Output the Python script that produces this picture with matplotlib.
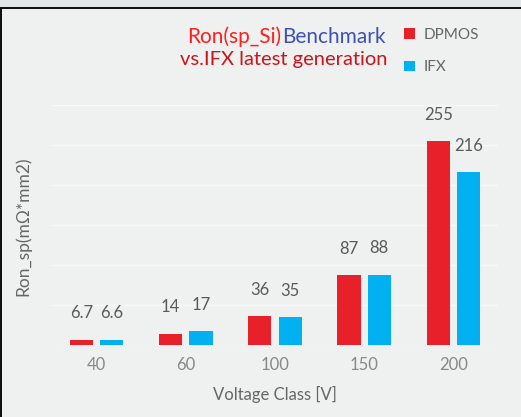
import matplotlib
matplotlib.use("Agg")
import matplotlib.pyplot as plt
from matplotlib.patches import Rectangle
import numpy as np

# data
voltage_classes = ["40", "60", "100", "150", "200"]
dpmos = [6.7, 14, 36, 87, 255]
ifx = [6.6, 17, 35, 88, 216]
dpmos_labels = ["6.7", "14", "36", "87", "255"]
ifx_labels = ["6.6", "17", "35", "88", "216"]

RED = "#e8202a"
BLUE = "#00b0f0"
BG = "#eff0f0"

plt.rcParams['font.family'] = ['Lato', 'DejaVu Sans']

W, H = 521, 417
fig = plt.figure(figsize=(W / 100, H / 100), dpi=100, facecolor=BG)

# screenshot frame: light strip on top, dark border lines
fig.patches.append(Rectangle((0, 1 - 7 / H), 1, 7 / H, transform=fig.transFigure,
                             facecolor="#e3e6e8", edgecolor="none", zorder=0))
fig.patches.append(Rectangle((0, 1 - 9 / H), 1, 2 / H, transform=fig.transFigure,
                             facecolor="#111111", edgecolor="none", zorder=0))
fig.patches.append(Rectangle((0, 0), 2 / W, 1 - 7 / H, transform=fig.transFigure,
                             facecolor="#111111", edgecolor="none", zorder=0))

ax = fig.add_axes([52 / W, 72 / H, (498 - 52) / W, (345 - 105) / H])
ax.set_facecolor(BG)

x = np.arange(len(voltage_classes))
w = 0.26
off = 0.17
b1 = ax.bar(x - off, dpmos, w, color=RED, label="DPMOS", zorder=3)
b2 = ax.bar(x + off, ifx, w, color=BLUE, label="IFX", zorder=3)

for bars, labels in ((b1, dpmos_labels), (b2, ifx_labels)):
    for rect, lab in zip(bars, labels):
        ax.annotate(lab, (rect.get_x() + rect.get_width() / 2, rect.get_height()),
                    xytext=(0, 19), textcoords="offset points", ha="center", va="center",
                    fontsize=12, color="#5a5a5a")

ax.set_xlim(-0.5, len(voltage_classes) - 0.5)
ax.set_ylim(0, 300)
ax.set_yticks(np.arange(0, 301, 50))
ax.set_yticklabels([])
ax.yaxis.grid(True, color="#f8f8f8", linewidth=1, zorder=0)
ax.set_axisbelow(True)
ax.set_xticks(x)
ax.set_xticklabels(voltage_classes, fontsize=12, color="#888888")
ax.tick_params(axis="both", length=0)
ax.tick_params(axis="x", pad=9)
for s in ax.spines.values():
    s.set_visible(False)

ax.set_xlabel("Voltage Class [V]", fontsize=12, color="#666666", labelpad=9)
ax.set_ylabel("Ron_sp(m\u03a9*mm2)", fontsize=12.5, color="#666666", labelpad=13)
ax.yaxis.set_label_coords(-21 / 446, (345 - 226) / 240)

# title in two colours
fig.text(281 / W, 1 - 43 / H, "Ron(sp_Si)", ha="right", va="baseline",
         fontsize=15, color="#ff1f1f")
fig.text(282 / W, 1 - 43 / H, "Benchmark", ha="left", va="baseline",
         fontsize=15, color="#3f51b5")
fig.text(283.5 / W, 1 - 65 / H, "vs.IFX latest generation", ha="center", va="baseline",
         fontsize=14.5, color="#c8161d")

leg = fig.legend(handles=[b1, b2], loc="upper left", bbox_to_anchor=(398 / W, 1 - 22 / H),
                 frameon=False, fontsize=11, handlelength=0.7, handleheight=0.7,
                 handletextpad=0.6, labelspacing=1.2, borderaxespad=0)
for t in leg.get_texts():
    t.set_color("#666666")

fig.savefig("out.png", dpi=100, facecolor=BG)
